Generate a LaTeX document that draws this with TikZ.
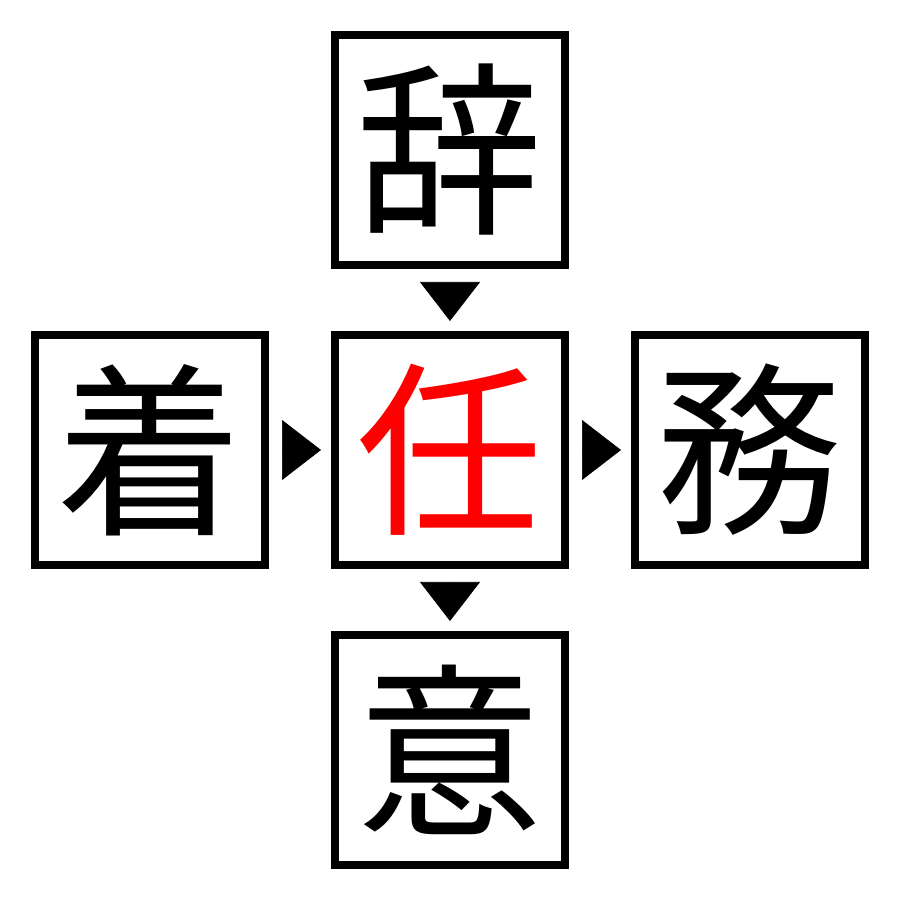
\documentclass[tikz,border=0pt]{standalone}
\usepackage{fontspec}
\newfontfamily\cjk{Noto Sans CJK JP}
\usetikzlibrary{arrows.meta, positioning}
\tikzset{kanji/.style={draw, line width=0.8mm, minimum size=23mm, inner sep=0pt, font=\cjk\fontsize{53}{53}\selectfont}}
\tikzset{pointer/.style={-{Triangle[length=3.9mm,width=6mm]}, line width=0.2pt, shorten <=1.5mm, shorten >=1mm}}
\begin{document}
\begin{tikzpicture}
\useasboundingbox (0,0) rectangle (9,9);
\node[kanji, text=red] (center) at (4.5,4.5) {任};
\node[kanji, above=6.2mm of center] (top) {辞};
\node[kanji, left=6.2mm of center] (left) {着};
\node[kanji, right=6.2mm of center] (right) {務};
\node[kanji, below=6.2mm of center] (bottom) {意};

\draw[pointer] (top) -- (center);
\draw[pointer] (left) -- (center);
\draw[pointer] (center) -- (right);
\draw[pointer] (center) -- (bottom);
\end{tikzpicture}
\end{document}
